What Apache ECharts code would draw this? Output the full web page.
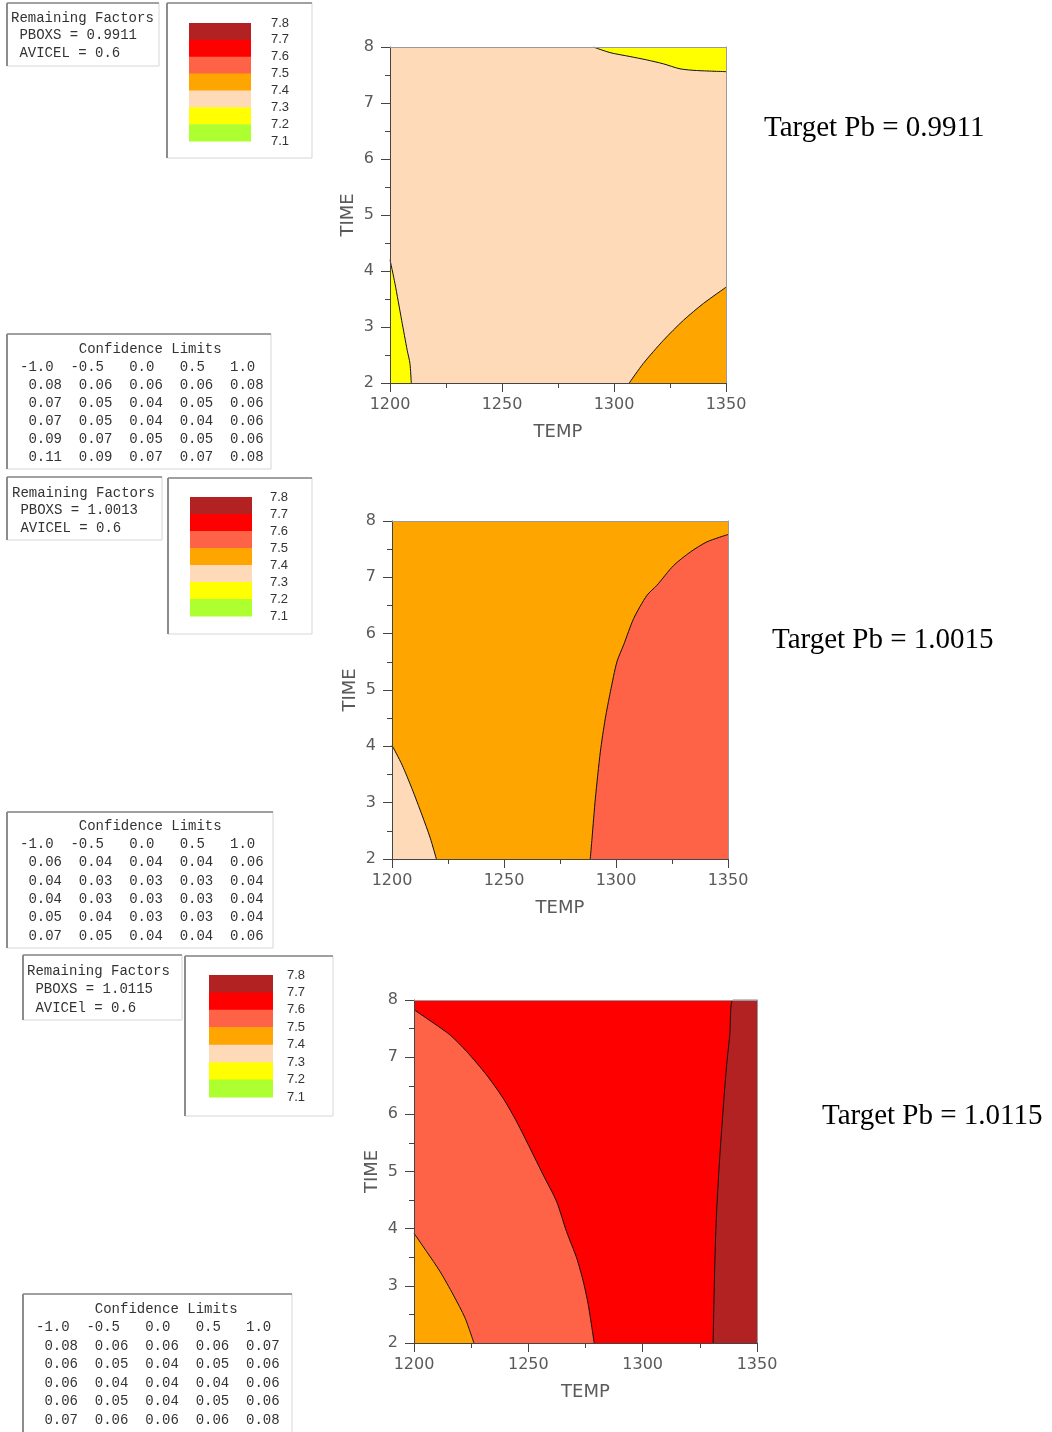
<!DOCTYPE html>
<html>
<head>
<meta charset="utf-8">
<script src="https://cdn.jsdelivr.net/npm/echarts@6/dist/echarts.min.js"></script>
<style>
html,body{margin:0;padding:0;background:#fff;}
#c{width:1052px;height:1432px;}
</style>
</head>
<body>
<div id="c"></div>
<script>
// ---------- data ----------
const legendLabels = ['7.8','7.7','7.6','7.5','7.4','7.3','7.2','7.1'];
const legendColors = ['#B22222','#FF0000','#FF6347','#FFA500','#FFDAB9','#FFFF00','#ADFF2F'];
const targetPb = ['0.9911','1.0015','1.0115'];
const pboxs = ['0.9911','1.0013','1.0115'];
const avicelNames = ['AVICEL','AVICEL','AVICEl'];
const avicelValues = ['0.6','0.6','0.6'];
const clHeader = [-1.0,-0.5,0.0,0.5,1.0];
const cl1 = [[0.08,0.06,0.06,0.06,0.08],[0.07,0.05,0.04,0.05,0.06],[0.07,0.05,0.04,0.04,0.06],[0.09,0.07,0.05,0.05,0.06],[0.11,0.09,0.07,0.07,0.08]];
const cl2 = [[0.06,0.04,0.04,0.04,0.06],[0.04,0.03,0.03,0.03,0.04],[0.04,0.03,0.03,0.03,0.04],[0.05,0.04,0.03,0.03,0.04],[0.07,0.05,0.04,0.04,0.06]];
const cl3 = [[0.08,0.06,0.06,0.06,0.07],[0.06,0.05,0.04,0.05,0.06],[0.06,0.04,0.04,0.04,0.06],[0.06,0.05,0.04,0.05,0.06],[0.07,0.06,0.06,0.06,0.08]];
const tempRange = [1200, 1350];
const timeRange = [2, 8];

// contour boundaries [TEMP, TIME]
// panel 1 (base 7.3-7.4)
const p1YellowTop  = [[1290.8,8],[1298.2,7.9],[1307.1,7.83],[1314.6,7.77],[1322,7.7],[1329.5,7.61],[1336.9,7.58],[1350,7.56]];
const p1YellowLeft = [[1200,4.2],[1202.2,3.78],[1205.2,3.12],[1207.7,2.58],[1208.9,2.35],[1209.5,2.0]];
const p1OrangeBR   = [[1306.8,2],[1313.1,2.35],[1322,2.76],[1331,3.12],[1339.9,3.42],[1350,3.71]];
// panel 2 (base 7.4-7.5)
const p2PeachBL  = [[1200,4.02],[1204.5,3.67],[1208.9,3.25],[1213.4,2.78],[1217.1,2.37],[1219.8,2.0]];
const p2TomatoR  = [[1288.5,2],[1289.3,2.37],[1290.8,3.08],[1293.0,3.9],[1295.2,4.49],[1297.5,4.97],[1300.4,5.5],[1303.4,5.8],[1307.9,6.27],[1313.8,6.68],[1318.3,6.86],[1325.7,7.21],[1333.2,7.45],[1340.6,7.63],[1350,7.76]];
// panel 3 (base 7.6-7.7)
const p3TomatoL  = [[1200,7.83],[1205.5,7.68],[1215.7,7.39],[1223,7.1],[1231.7,6.69],[1239,6.28],[1244.9,5.87],[1250.7,5.41],[1256.5,4.94],[1262.3,4.48],[1266.7,3.95],[1271.1,3.49],[1274,3.08],[1276.2,2.67],[1278.8,2.0]];
const p3OrangeBL = [[1200,3.92],[1205.5,3.6],[1211.4,3.25],[1217.2,2.84],[1222.3,2.44],[1226.2,2.0]];
const p3FireR    = [[1330.8,2],[1331.5,3.31],[1332.2,4.18],[1333.4,5.06],[1334.9,5.93],[1336.6,6.81],[1338.1,7.39],[1339.5,8],[1350,8]];

// ---------- layout ----------
const C = {fire:legendColors[0], red:legendColors[1], tomato:legendColors[2], orange:legendColors[3], peach:legendColors[4], yellow:legendColors[5]};
const grids = [
  {left:390, top:47, width:336, height:336, bg:C.peach},
  {left:392, top:521, width:336, height:338, bg:C.orange},
  {left:414, top:1000, width:343, height:343, bg:C.red}
];
const regions = [
  [{d:p1YellowTop, c:C.yellow, o:'end'}, {d:p1YellowLeft, c:C.yellow, o:'start'}, {d:p1OrangeBR, c:C.orange, o:'start'}],
  [{d:p2PeachBL, c:C.peach, o:'start'}, {d:p2TomatoR, c:C.tomato, o:'start'}],
  [{d:p3TomatoL, c:C.tomato, o:'start'}, {d:p3OrangeBL, c:C.orange, o:'start'}, {d:p3FireR, c:C.fire, o:'start'}]
];
const boxes = [
  {rf:[7,3,152,63], rfT:[11,9.25,17.5], lg:[167,3,145,155], sw:[189,23,62,118], lgX:271, cl:[7,334,264,135], clT:[20,340,18.0], tg:[764,128], cls:cl1},
  {rf:[7,477,155,63], rfT:[12,484.25,17.5], lg:[168,478,144,156], sw:[190,497,62,119], lgX:270, cl:[7,812,266,136], clT:[20,816.8,18.33], tg:[772,640], cls:cl2},
  {rf:[23,955,159,65], rfT:[27,961.75,18.5], lg:[185,956,148,160], sw:[209,975,64,122], lgX:287, cl:[23,1294,269,140], clT:[36,1299.75,18.5], tg:[822,1116], cls:cl3}
];

const axisColor = '#444';
const labelFont = {fontFamily:'DejaVu Sans', fontSize:16, color:'#5a5a5a'};
const plainNum = v => String(v);
const xAxes = [], yAxes = [], series = [];
grids.forEach((g, i) => {
  xAxes.push({gridIndex:i, type:'value', min:tempRange[0], max:tempRange[1], interval:50, position:'bottom', z:10,
    axisLine:{show:true, onZero:false, lineStyle:{color:axisColor}},
    axisTick:{show:true, inside:false, length:9, lineStyle:{color:axisColor}},
    minorTick:{show:true, splitNumber:2, length:5, lineStyle:{color:axisColor}},
    splitLine:{show:false}, minorSplitLine:{show:false},
    axisLabel:Object.assign({margin:14, formatter:plainNum}, labelFont),
    name:'TEMP', nameLocation:'middle', nameGap:40,
    nameTextStyle:{fontFamily:'DejaVu Sans', fontSize:18, color:'#5a5a5a'}});
  xAxes.push({gridIndex:i, type:'value', min:tempRange[0], max:tempRange[1], position:'top', z:10,
    axisLine:{show:true, onZero:false, lineStyle:{color:'#9a9a9a'}}, axisTick:{show:false}, axisLabel:{show:false}, splitLine:{show:false}});
  yAxes.push({gridIndex:i, type:'value', min:timeRange[0], max:timeRange[1], interval:1, position:'left', z:10,
    axisLine:{show:true, onZero:false, lineStyle:{color:axisColor}},
    axisTick:{show:true, inside:false, length:9, lineStyle:{color:axisColor}},
    minorTick:{show:true, splitNumber:2, length:5, lineStyle:{color:axisColor}},
    splitLine:{show:false}, minorSplitLine:{show:false},
    axisLabel:Object.assign({margin:16, formatter:plainNum}, labelFont),
    name:'TIME', nameLocation:'middle', nameGap:33,
    nameTextStyle:{fontFamily:'DejaVu Sans', fontSize:18, color:'#5a5a5a'}});
  yAxes.push({gridIndex:i, type:'value', min:timeRange[0], max:timeRange[1], position:'right', z:10,
    axisLine:{show:true, onZero:false, lineStyle:{color:'#9a9a9a'}}, axisTick:{show:false}, axisLabel:{show:false}, splitLine:{show:false}});
  regions[i].forEach(r => {
    series.push({type:'line', xAxisIndex:2*i, yAxisIndex:2*i, data:r.d, symbol:'none', smooth:0.25,
      silent:true, animation:false,
      lineStyle:{color:'#111', width:1},
      areaStyle:{color:r.c, opacity:1, origin:r.o}});
  });
});

// ---------- boxes (text panels) ----------
const graphic = [];
function box(x, y, w, h) {
  graphic.push({type:'rect', shape:{x:x, y:y, width:w, height:h}, style:{fill:'#fff', stroke:'#d6d6d6', lineWidth:1}});
  graphic.push({type:'line', shape:{x1:x, y1:y, x2:x+w, y2:y}, style:{stroke:'#a0a0a0', lineWidth:2}});
  graphic.push({type:'line', shape:{x1:x, y1:y, x2:x, y2:y+h}, style:{stroke:'#8c8c8c', lineWidth:2}});
}
function fmtHeader(v) { return (v < 0 ? '' : ' ') + v.toFixed(1); }
function fmtRow(row) { return row.map(v => ' ' + v.toFixed(2)).join(' '); }
const mono = {fontFamily:'Liberation Mono', fontSize:14, fill:'#333'};
boxes.forEach((b, i) => {
  // remaining factors
  box(b.rf[0], b.rf[1], b.rf[2], b.rf[3]);
  graphic.push({type:'text', style:Object.assign({}, mono, {x:b.rfT[0], y:b.rfT[1], lineHeight:b.rfT[2], verticalAlign:'top',
    text:'Remaining Factors\n PBOXS = ' + pboxs[i] + '\n ' + avicelNames[i] + ' = ' + avicelValues[i]})});
  // legend
  box(b.lg[0], b.lg[1], b.lg[2], b.lg[3]);
  const sh = b.sw[3] / legendColors.length;
  legendColors.forEach((c, k) => {
    graphic.push({type:'rect', shape:{x:b.sw[0], y:b.sw[1] + k*sh, width:b.sw[2], height:sh + 0.5}, style:{fill:c}});
  });
  legendLabels.forEach((t, k) => {
    graphic.push({type:'text', style:{x:b.lgX, y:b.sw[1] + k*sh, text:t, verticalAlign:'middle', fontFamily:'Liberation Sans', fontSize:13, fill:'#333'}});
  });
  // confidence limits
  box(b.cl[0], b.cl[1], b.cl[2], b.cl[3]);
  const lines = ['       Confidence Limits', clHeader.map(fmtHeader).join('  ')].concat(b.cls.map(fmtRow));
  graphic.push({type:'text', style:Object.assign({}, mono, {x:b.clT[0], y:b.clT[1], lineHeight:b.clT[2], verticalAlign:'top', text:lines.join('\n')})});
  // target label
  graphic.push({type:'text', style:{x:b.tg[0], y:b.tg[1], text:'Target Pb = ' + targetPb[i], verticalAlign:'middle', fontFamily:'Liberation Serif', fontSize:29, fill:'#000'}});
});

const chart = echarts.init(document.getElementById('c'), null, {renderer:'canvas'});
chart.setOption({
  backgroundColor:'#fff',
  animation:false,
  grid: grids.map(g => ({left:g.left, top:g.top, width:g.width, height:g.height, show:true, backgroundColor:g.bg, borderWidth:0})),
  xAxis: xAxes,
  yAxis: yAxes,
  series: series,
  graphic: graphic
});
</script>
</body>
</html>
